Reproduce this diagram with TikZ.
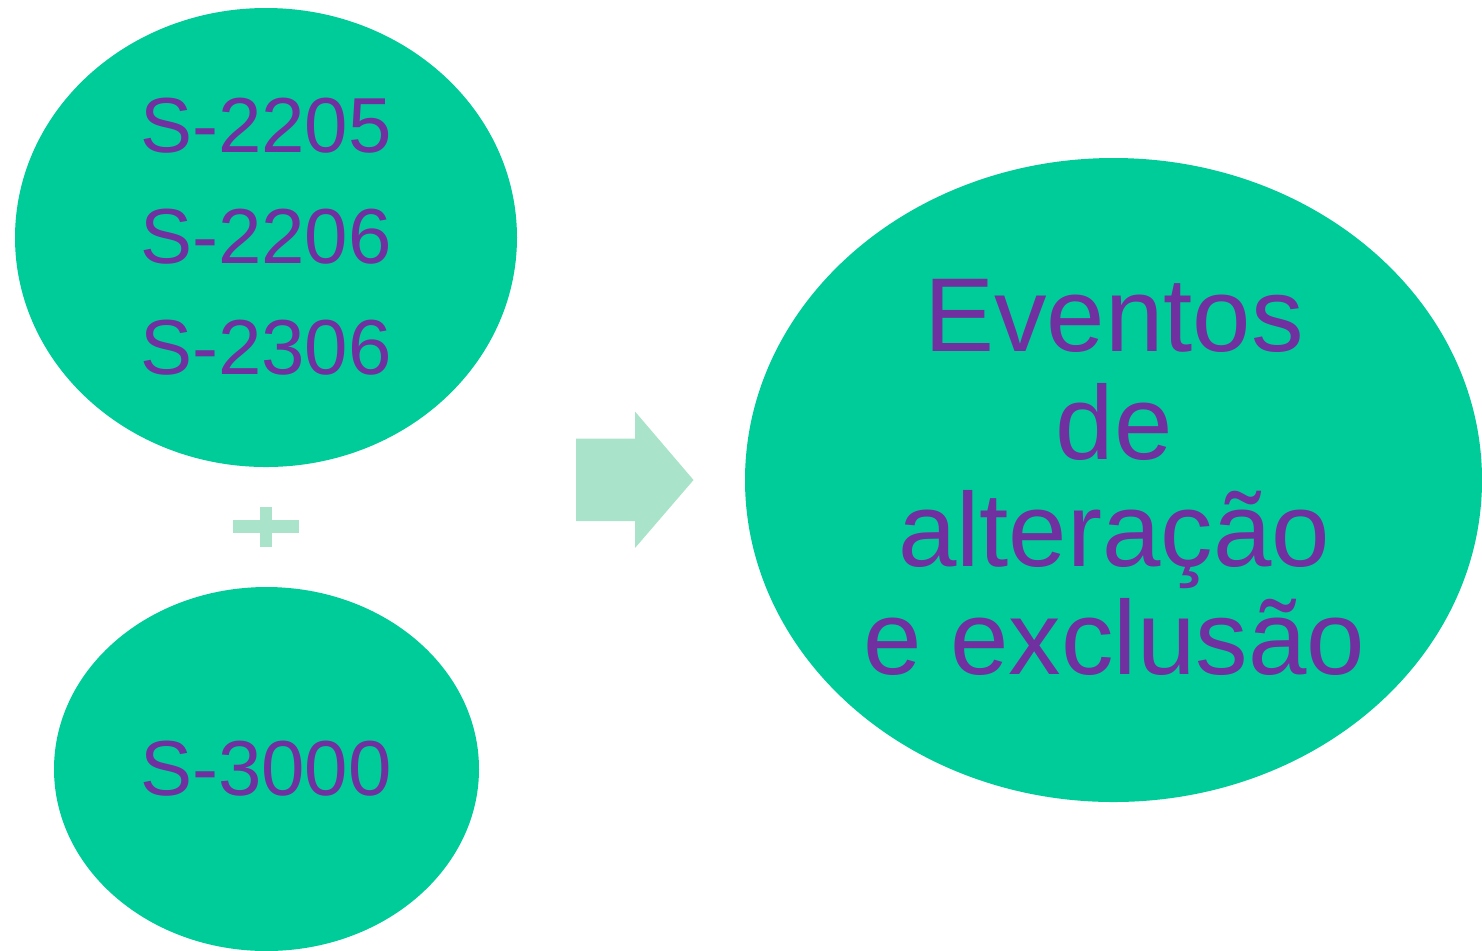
\documentclass[tikz,border=0pt]{standalone}
\usepackage{fontspec}
\setmainfont{Liberation Sans}
\usetikzlibrary{shapes.geometric}
\definecolor{ovalgreen}{HTML}{00CC99}
\definecolor{txtpurple}{HTML}{7030A0}
\definecolor{lightgreen}{HTML}{A9E3CA}
\tikzset{
  oval/.style={ellipse, fill=ovalgreen, draw=none, inner sep=0pt},
  smalltxt/.style={anchor=base, text=txtpurple, inner sep=0pt, font=\fontsize{39pt}{39pt}\selectfont},
  bigtxt/.style={anchor=base, text=txtpurple, inner sep=0pt, font=\fontsize{52.5pt}{52.5pt}\selectfont},
  deco/.style={fill=lightgreen, draw=none}
}
\begin{document}
\begin{tikzpicture}[x=0.5pt, y=-0.5pt]
\path[use as bounding box] (0,0) rectangle (1482,950);
\node[oval, minimum width=502pt*0.5, minimum height=459pt*0.5] (top) at (266,237.5) {};
\node[oval, minimum width=425pt*0.5, minimum height=364pt*0.5] (bot) at (266.5,769) {};
\node[oval, minimum width=737pt*0.5, minimum height=644pt*0.5] (right) at (1113.5,480) {};
% plus sign
\path[deco] (233,520) rectangle (299,532.5);
\path[deco] (260,507) rectangle (272,547);
\coordinate (plus) at (266,526);
% block arrow
\path[deco] (576,438.5) -- (635,438.5) -- (635,411.5) -- (693.5,480) -- (635,548) -- (635,521) -- (576,521) -- cycle;
% texts
\node[smalltxt] (t1) at (266,152) {S-2205};
\node[smalltxt] (t2) at (266,263) {S-2206};
\node[smalltxt] (t3) at (266,374) {S-2306};
\node[smalltxt] (t4) at (266,795) {S-3000};
\node[bigtxt] (r1) at (1114,351) {Eventos};
\node[bigtxt] (r2) at (1114,459) {de};
\node[bigtxt] (r3) at (1114,566.5) {alteração};
\node[bigtxt] (r4) at (1114,674) {e exclusão};
\end{tikzpicture}
\end{document}
